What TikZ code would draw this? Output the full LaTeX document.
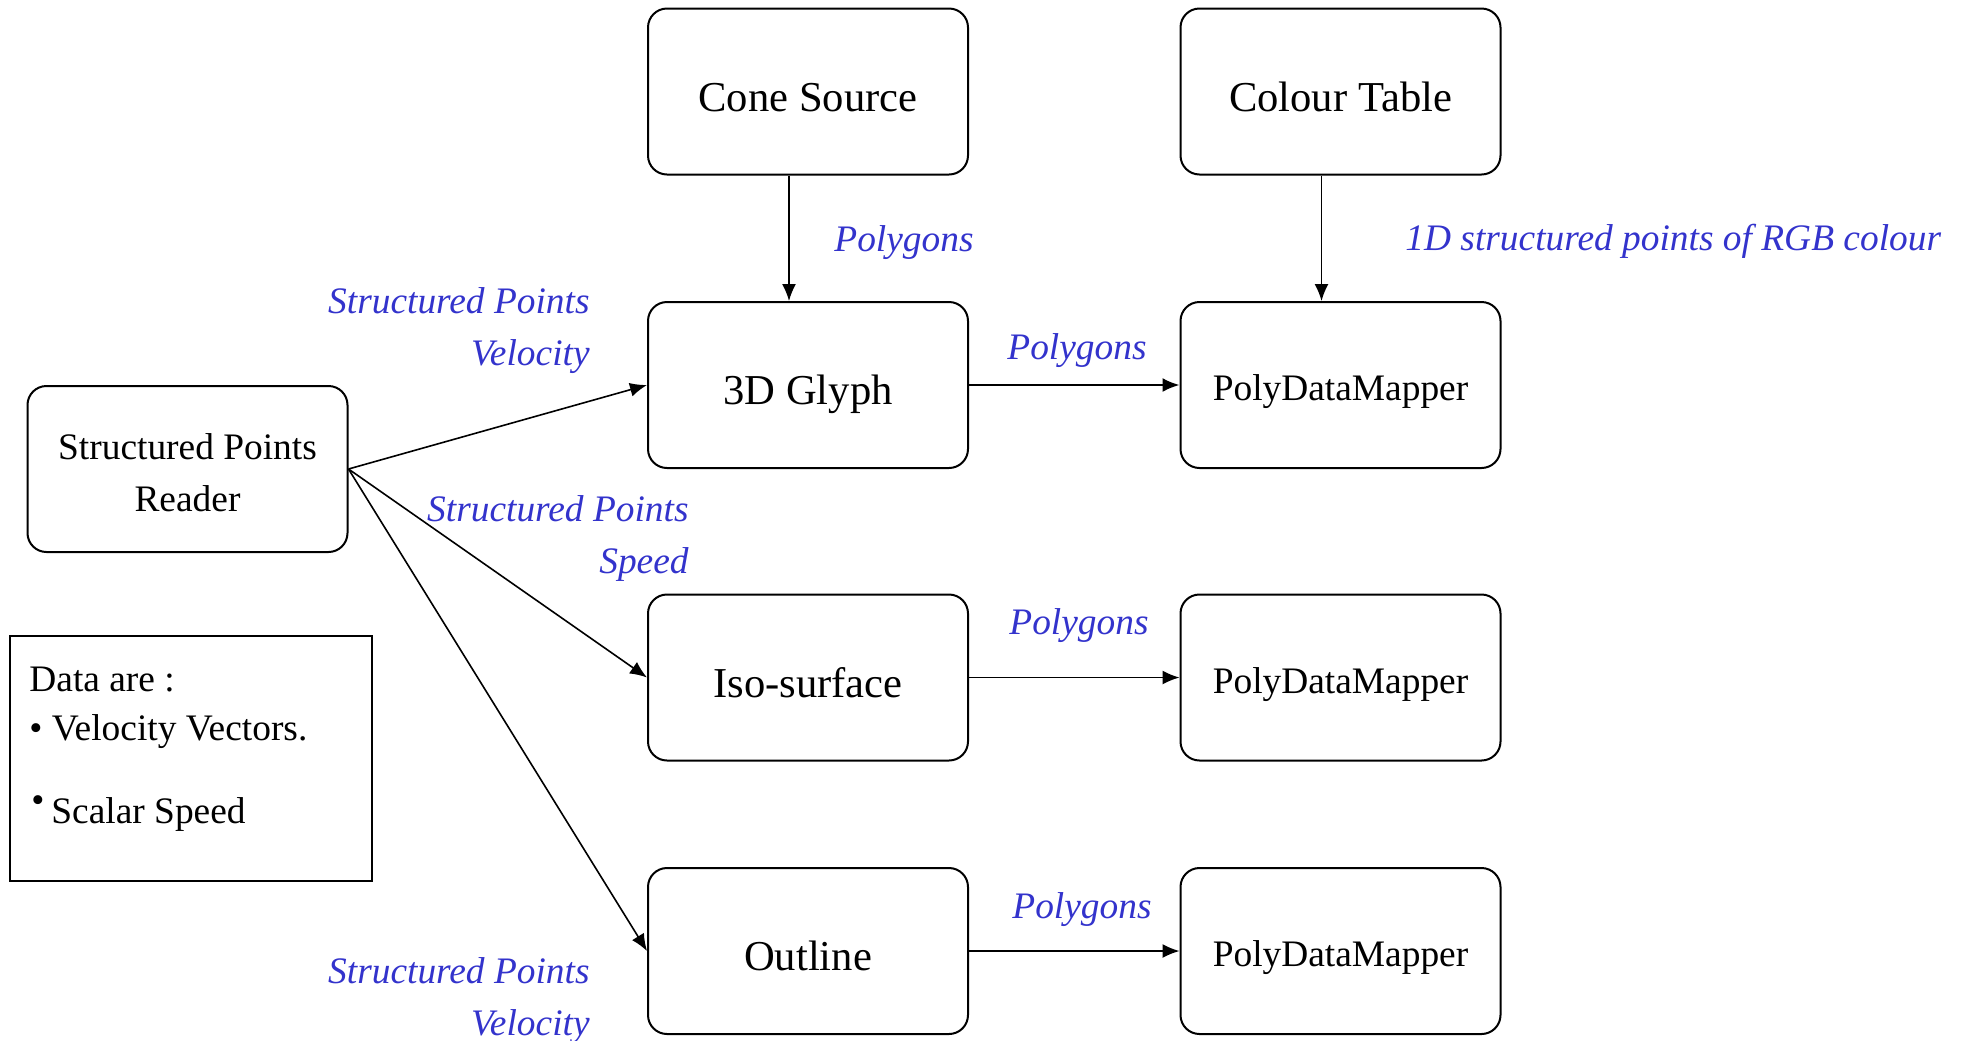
\documentclass[tikz,border=0pt]{standalone}
\usepackage{fontspec}
\setmainfont{Liberation Serif}
\usetikzlibrary{arrows.meta}
\definecolor{lblue}{RGB}{51,51,204}
\newcommand\lowered[2]{\raisebox{-#1}[\height][\depth]{#2}}
\tikzset{
  box/.style={draw, line width=1pt, rounded corners=9.5pt, minimum width=160pt, minimum height=83pt, inner sep=0pt, align=center},
  bigbox/.style={box, font=\fontsize{21.3}{26}\selectfont, text height=19.6pt, text depth=0pt},
  smallbox/.style={box, font=\fontsize{18.7}{25.7}\selectfont, text height=15.6pt, text depth=0pt},
  twobox/.style={box, font=\fontsize{18.7}{25.7}\selectfont},
  lbl/.style={text=lblue, font=\fontsize{18.7}{26.3}\selectfont\itshape, inner sep=0pt},
  arr/.style={-{Latex[length=8.5pt,width=7pt]}, line width=0.8pt},
  leg/.style={font=\fontsize{18.7}{24}\selectfont, inner sep=0pt, anchor=west}
}
\begin{document}
\begin{tikzpicture}[x=0.5pt,y=-0.5pt]
\useasboundingbox (0,0) rectangle (1963,1040);
% nodes
\node[bigbox] (cone) at (808,91.5) {Cone Source};
\node[bigbox] (colour) at (1340.5,91.5) {Colour Table};
\node[bigbox] (glyph) at (808,385) {3D Glyph};
\node[smallbox] (pdm1) at (1340.5,385) {PolyDataMapper};
\node[twobox] (spr) at (187.5,469) {\lowered{1.9pt}{Structured Points}\\\lowered{1.9pt}{Reader}};
\node[bigbox] (iso) at (808,677.5) {Iso-surface};
\node[smallbox] (pdm2) at (1340.5,677.5) {PolyDataMapper};
\node[bigbox] (outline) at (808,951) {Outline};
\node[smallbox] (pdm3) at (1340.5,951) {PolyDataMapper};
% legend
\node[draw, line width=1pt, minimum width=181pt, minimum height=122.5pt, inner sep=0pt] (legend) at (191,758.5) {};
\node[leg] (l1) at (29,679.5) {Data are :};
\node[leg] (l2) at (29,732) {\textbullet\ Velocity Vectors.};
\node[leg] (l3b) at (31,804) {\textbullet};
\node[leg] (l3) at (51,814) {Scalar Speed};
% connectors
\draw[arr] ([xshift=-9.5pt]cone.south) -- ([xshift=-9.5pt]glyph.north);
\draw[arr] ([xshift=-9.5pt]colour.south) -- ([xshift=-9.5pt]pdm1.north);
\draw[arr, line width=1.1pt] (glyph.east) -- (pdm1.west);
\draw[arr] (iso.east) -- (pdm2.west);
\draw[arr] (outline.east) -- (pdm3.west);
\draw[arr] (spr.east) -- (glyph.west);
\draw[arr] (spr.east) -- (iso.west);
\draw[arr] (spr.east) -- (outline.west);
% labels
\node[lbl, anchor=west] (p1) at (834,243) {Polygons};
\node[lbl, anchor=west] (rgb) at (1405,241) {1D structured points of RGB colour};
\node[lbl, anchor=center] (p2) at (1077,351) {Polygons};
\node[lbl, anchor=center] (p3) at (1079,626) {Polygons};
\node[lbl, anchor=center] (p4) at (1082,910) {Polygons};
\node[lbl, anchor=east, align=right] (sv1) at (590,330.5) {Structured Points\\Velocity};
\node[lbl, anchor=east, align=right] (ss) at (689,538.5) {Structured Points\\Speed};
\node[lbl, anchor=east, align=right] (sv2) at (590,1000.5) {Structured Points\\Velocity};
\end{tikzpicture}
\end{document}
